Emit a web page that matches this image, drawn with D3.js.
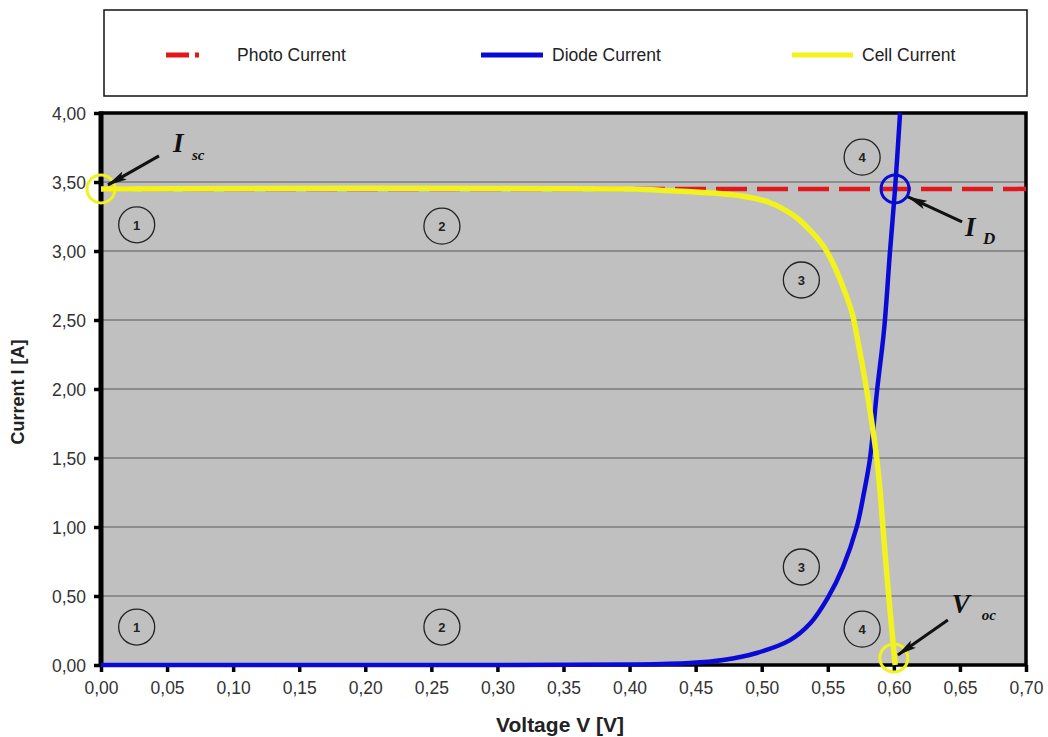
<!DOCTYPE html>
<html>
<head>
<meta charset="utf-8">
<script src="https://cdn.jsdelivr.net/npm/d3@7"></script>
<style>
  body { margin: 0; background: #ffffff; }
  svg { display: block; }
</style>
</head>
<body>
<svg id="chart" width="1048" height="737"></svg>
<script>
// ---- Data ----
const seriesNames = ["Photo Current", "Diode Current", "Cell Current"];

// Photo current (constant)
const photoV = [0.00, 0.70];
const photoI = [3.45, 3.45];

// Diode current
const diodeV = [0.000, 0.300, 0.400, 0.4457, 0.4707, 0.4962, 0.5214, 0.5366, 0.5502, 0.5615, 0.5719, 0.5774, 0.5820, 0.5873, 0.5926, 0.5971, 0.6009, 0.6047];
const diodeI = [0.000, 0.000, 0.003, 0.014, 0.036, 0.087, 0.180, 0.300, 0.490, 0.710, 1.000, 1.250, 1.500, 1.990, 2.430, 3.000, 3.450, 4.000];

// Cell current
const cellV = [0.000, 0.400, 0.423, 0.4836, 0.5063, 0.5237, 0.5366, 0.5464, 0.5540, 0.5615, 0.5684, 0.5721, 0.5795, 0.5842, 0.5870, 0.5895, 0.5917, 0.5962, 0.6010];
const cellI = [3.450, 3.450, 3.440, 3.400, 3.350, 3.260, 3.150, 3.040, 2.910, 2.740, 2.550, 2.380, 1.990, 1.700, 1.500, 1.270, 1.000, 0.490, 0.000];

// Axis ticks
const xTicks = [0.00, 0.05, 0.10, 0.15, 0.20, 0.25, 0.30, 0.35, 0.40, 0.45, 0.50, 0.55, 0.60, 0.65, 0.70];
const yTicks = [0.00, 0.50, 1.00, 1.50, 2.00, 2.50, 3.00, 3.50, 4.00];

// Operating-region markers (circled numbers)
const regionLabels = ["1", "1", "2", "2", "3", "3", "4", "4"];
const regionV = [0.027, 0.027, 0.258, 0.258, 0.530, 0.530, 0.576, 0.576];
const regionI = [3.19, 0.275, 3.18, 0.275, 2.79, 0.71, 3.68, 0.26];

// Characteristic points: short-circuit current, diode current at Iph, open-circuit voltage
const keyNames = ["I", "I", "V"];
const keySubs = ["sc", "D", "oc"];
const keyV = [0.000, 0.6009, 0.600];
const keyI = [3.45, 3.45, 0.00];

// ---- Layout ----
const svg = d3.select("#chart");
const colors = { photo: "#e3161c", diode: "#0a0ad6", cell: "#f2f21c" };
const plotLeft = 101, plotRight = 1026, plotTop = 113, plotBottom = 665;

const x = d3.scaleLinear().domain([0, 0.70]).range([plotLeft, plotRight]);
const y = d3.scaleLinear().domain([0, 4.0]).range([plotBottom, plotTop]);

const locale = d3.formatLocale({ decimal: ",", thousands: ".", grouping: [3], currency: ["", "€"] });
const fmt = locale.format(".2f");

// Legend box
const legend = svg.append("g");
legend.append("rect")
  .attr("x", 104).attr("y", 10).attr("width", 923).attr("height", 86)
  .attr("fill", "#ffffff").attr("stroke", "#111").attr("stroke-width", 1.5);

const legendItems = [
  { name: seriesNames[0], color: colors.photo, x0: 166, x1: 228, dash: "23,6,4,100", width: 5 },
  { name: seriesNames[1], color: colors.diode, x0: 481, x1: 543, dash: null, width: 5 },
  { name: seriesNames[2], color: colors.cell, x0: 792, x1: 853, dash: null, width: 5 }
];
legendItems.forEach(d => {
  legend.append("line")
    .attr("x1", d.x0).attr("x2", d.x1).attr("y1", 55).attr("y2", 55)
    .attr("stroke", d.color).attr("stroke-width", d.width)
    .attr("stroke-dasharray", d.dash);
  legend.append("text")
    .attr("x", d.x1 + 9).attr("y", 61)
    .attr("font-family", "Liberation Sans, Arial, sans-serif")
    .attr("font-size", 17.5).attr("fill", "#222")
    .text(d.name);
});

// Plot background
svg.append("rect")
  .attr("x", plotLeft).attr("y", plotTop)
  .attr("width", plotRight - plotLeft).attr("height", plotBottom - plotTop)
  .attr("fill", "#c0c0c0");

// Horizontal gridlines
svg.append("g")
  .selectAll("line")
  .data(yTicks.filter(t => t > 0 && t < 4))
  .join("line")
  .attr("x1", plotLeft).attr("x2", plotRight)
  .attr("y1", d => y(d)).attr("y2", d => y(d))
  .attr("stroke", "#7c7c7c").attr("stroke-width", 1.5);

// Axes
const xAxis = svg.append("g")
  .attr("transform", `translate(0,${plotBottom})`)
  .call(d3.axisBottom(x).tickValues(xTicks).tickFormat(fmt).tickSize(7).tickPadding(10));
const yAxis = svg.append("g")
  .attr("transform", `translate(${plotLeft},0)`)
  .call(d3.axisLeft(y).tickValues(yTicks).tickFormat(fmt).tickSize(7).tickPadding(8));

[xAxis, yAxis].forEach(a => {
  a.select(".domain").remove();
  a.selectAll(".tick line").attr("stroke", "#000").attr("stroke-width", 3.5);
  a.selectAll(".tick text")
    .attr("font-family", "Liberation Sans, Arial, sans-serif")
    .attr("font-size", 17.5).attr("fill", "#333");
});
yAxis.selectAll(".tick text").attr("dy", "0.36em");

// Plot frame
svg.append("rect")
  .attr("x", plotLeft).attr("y", plotTop)
  .attr("width", plotRight - plotLeft).attr("height", plotBottom - plotTop)
  .attr("fill", "none").attr("stroke", "#000").attr("stroke-width", 3.5);
svg.append("line")
  .attr("x1", plotLeft).attr("x2", plotLeft).attr("y1", plotTop - 1.5).attr("y2", plotBottom + 2)
  .attr("stroke", "#000").attr("stroke-width", 5);

// Axis titles
svg.append("text")
  .attr("x", 560).attr("y", 732)
  .attr("text-anchor", "middle")
  .attr("font-family", "Liberation Sans, Arial, sans-serif")
  .attr("font-size", 21).attr("font-weight", "bold").attr("fill", "#222")
  .text("Voltage V  [V]");
svg.append("text")
  .attr("transform", "translate(24,392) rotate(-90)")
  .attr("text-anchor", "middle")
  .attr("font-family", "Liberation Sans, Arial, sans-serif")
  .attr("font-size", 18).attr("font-weight", "bold").attr("fill", "#222")
  .text("Current I [A]");

// Curves
const zip = (vs, is) => vs.map((v, k) => ({ v, i: is[k] }));
const smooth = d3.line().x(d => x(d.v)).y(d => y(d.i)).curve(d3.curveCatmullRom.alpha(0.5));
const straight = d3.line().x(d => x(d.v)).y(d => y(d.i));

const curves = svg.append("g");
curves.append("path")
  .attr("d", straight(zip(photoV, photoI)))
  .attr("fill", "none").attr("stroke", colors.photo)
  .attr("stroke-width", 4.5).attr("stroke-dasharray", "31,10");
curves.append("path")
  .attr("d", smooth(zip(diodeV, diodeI)))
  .attr("fill", "none").attr("stroke", colors.diode)
  .attr("stroke-width", 4.5).attr("stroke-linejoin", "round");
curves.append("path")
  .attr("d", smooth(zip(cellV, cellI)))
  .attr("fill", "none").attr("stroke", colors.cell)
  .attr("stroke-width", 5.5).attr("stroke-linejoin", "round");

// Circled region numbers
const regions = svg.append("g");
regionLabels.forEach((lab, k) => {
  const cx = x(regionV[k]), cy = y(regionI[k]);
  regions.append("circle")
    .attr("cx", cx).attr("cy", cy).attr("r", 18)
    .attr("fill", "none").attr("stroke", "#222").attr("stroke-width", 1.3);
  regions.append("text")
    .attr("x", cx).attr("y", cy + 5)
    .attr("text-anchor", "middle")
    .attr("font-family", "Liberation Sans, Arial, sans-serif")
    .attr("font-size", 13).attr("font-weight", "bold").attr("fill", "#222")
    .text(lab);
});

// Arrowhead
svg.append("defs").append("marker")
  .attr("id", "arrowhead")
  .attr("viewBox", "0 -5 20 10")
  .attr("refX", 19).attr("refY", 0)
  .attr("markerWidth", 20).attr("markerHeight", 10)
  .attr("markerUnits", "userSpaceOnUse")
  .attr("orient", "auto")
  .append("path").attr("d", "M0,-4.5L20,0L0,4.5L4,0Z").attr("fill", "#111");

// Characteristic point call-outs (pixel offsets relative to each point)
const keyStyle = [
  { ring: colors.cell, ringDy: 0, tip: [7, -4], tail: [58, -33], lbl: [72, -37], sub: [91, -29], subSize: 15 },
  { ring: colors.diode, ringDy: 0, tip: [13, 8], tail: [67, 33], lbl: [70, 47], sub: [88, 55], subSize: 17 },
  { ring: colors.cell, ringDy: -7, tip: [4, -3], tail: [54, -38], lbl: [58, -45], sub: [88, -38], subSize: 15 }
];
const keys = svg.append("g");
keyNames.forEach((nm, k) => {
  const s = keyStyle[k];
  const px = x(keyV[k]), py = y(keyI[k]) + s.ringDy;
  keys.append("circle")
    .attr("cx", px).attr("cy", py).attr("r", 14)
    .attr("fill", "none").attr("stroke", s.ring).attr("stroke-width", 3);
  keys.append("line")
    .attr("x1", px + s.tail[0]).attr("y1", py + s.tail[1])
    .attr("x2", px + s.tip[0]).attr("y2", py + s.tip[1])
    .attr("stroke", "#111").attr("stroke-width", 3)
    .attr("marker-end", "url(#arrowhead)");
  keys.append("text")
    .attr("x", px + s.lbl[0]).attr("y", py + s.lbl[1])
    .attr("font-family", "Liberation Serif, Times New Roman, serif")
    .attr("font-size", 27).attr("font-weight", "bold").attr("font-style", "italic")
    .attr("fill", "#111")
    .text(nm);
  keys.append("text")
    .attr("x", px + s.sub[0]).attr("y", py + s.sub[1])
    .attr("font-family", "Liberation Serif, Times New Roman, serif")
    .attr("font-size", s.subSize).attr("font-weight", "bold").attr("font-style", "italic")
    .attr("fill", "#111")
    .text(keySubs[k]);
});
</script>
</body>
</html>
